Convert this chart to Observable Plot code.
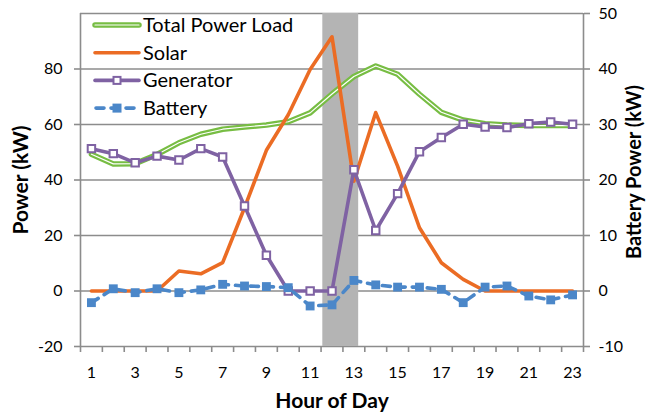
<!DOCTYPE html>
<html><head><meta charset="utf-8">
<script src="https://cdn.jsdelivr.net/npm/d3@7"></script>
<script src="https://cdn.jsdelivr.net/npm/@observablehq/plot@0.6"></script>
<style>
body{margin:0;background:#fff;}
#wrap{position:relative;width:646px;height:414px;overflow:hidden;}
#legend{position:absolute;left:0;top:0;}
</style></head><body><div id="wrap"></div>
<script>
const hours = [1,2,3,4,5,6,7,8,9,10,11,12,13,14,15,16,17,18,19,20,21,22,23];
const totalLoad = [49.3,45.8,45.9,49.2,53.4,56.5,58.3,59.1,59.8,61,64.2,71,77.3,81.1,78.1,70.9,64.4,61.6,60.3,59.8,59.6,59.6,59.6];
const solar = [0,0,0,0,7.2,6.2,10.2,30,50.7,63.5,79.8,91.6,39.6,64.3,45,22.8,10.2,4.2,0,0,0,0,0];
const generator = [51.3,49.5,46.2,48.6,47.2,51.3,48.3,30.6,12.9,0,0,0,43.7,21.8,35.1,50.2,55.3,60.1,59.1,58.9,60.3,60.9,60.1];
const battery = [-2.1,0.4,-0.3,0.4,-0.3,0.2,1.2,0.9,0.8,0.6,-2.7,-2.5,1.9,1.1,0.7,0.7,0.3,-2.1,0.7,0.9,-0.9,-1.6,-0.7];
const leftTicks = [-20,0,20,40,60,80];
const rightTicks = [-10,0,10,20,30,40,50];
const gridValues = [-20,0,20,40,60,80,100];
const xTickLabels = [1,3,5,7,9,11,13,15,17,19,21,23];
const xTickMarks = [0.5,1.5,2.5,3.5,4.5,5.5,6.5,7.5,8.5,9.5,10.5,11.5,12.5,13.5,14.5,15.5,16.5,17.5,18.5,19.5,20.5,21.5,22.5,23.5];
const highlight = [{start: 11.58, end: 13.22}];
const seriesNames = ["Total Power Load","Solar","Generator","Battery"];
const xTitle = "Hour of Day";
const yTitle = "Power (kW)";
const y2Title = "Battery Power (kW)";

const FONT = "Lato, 'Open Sans', sans-serif";
const C = {green:"#77bd43", orange:"#eb6c24", purple:"#7f62a3", blue:"#4b87c9", grid:"#8c8c8c", band:"#b4b4b4"};
const ratio = 2; // left axis units per right axis unit

const rows = hours.map((h,i)=>({hour:h,total:totalLoad[i],solar:solar[i],gen:generator[i],bat:battery[i]*ratio}));

const chart = Plot.plot({
  width:646, height:414, marginLeft:80, marginRight:63, marginTop:13, marginBottom:68,
  x:{domain:[0.5,23.5]},
  y:{domain:[-20,100]},
  style:{fontFamily:FONT, background:"white", color:"black"},
  marks:[
    Plot.ruleY(gridValues, {stroke:C.grid, strokeWidth:1.6}),
    Plot.rect(highlight, {x1:"start", x2:"end", fill:C.band}),
    Plot.ruleX([0.5, 23.5], {stroke:C.grid, strokeWidth:1.6}),
    Plot.axisY({anchor:"left", ticks:leftTicks, tickFormat:d=>String(d), tickSize:6, tickPadding:12, stroke:C.grid, strokeWidth:1.6, fill:"black", fontSize:16, label:null}),
    Plot.axisY({anchor:"right", ticks:rightTicks.map(d=>d*ratio), tickFormat:d=>String(d/ratio), tickSize:6, tickPadding:9, stroke:C.grid, strokeWidth:1.6, fill:"black", fontSize:16, label:null}),
    Plot.axisX({ticks:xTickLabels, tickSize:0, tickPadding:20, fill:"black", fontSize:16, label:null}),
    Plot.axisX({ticks:xTickMarks, tickSize:6, tickFormat:()=>"", stroke:C.grid, strokeWidth:1.6, label:null}),
    Plot.line(rows, {x:"hour", y:"total", stroke:C.green, strokeWidth:5.5}),
    Plot.line(rows, {x:"hour", y:"total", stroke:"white", strokeWidth:1.2}),
    Plot.line(rows, {x:"hour", y:"solar", stroke:C.orange, strokeWidth:3.6}),
    Plot.line(rows, {x:"hour", y:"gen", stroke:C.purple, strokeWidth:3.6}),
    Plot.dot(rows, {x:"hour", y:"gen", symbol:"square", r:4.2, fill:"white", stroke:C.purple, strokeWidth:2}),
    Plot.line(rows, {x:"hour", y:"bat", stroke:C.blue, strokeWidth:3.6, strokeDasharray:"8,7", strokeLinecap:"round"}),
    Plot.dot(rows, {x:"hour", y:"bat", symbol:"square", r:5, fill:C.blue}),
    Plot.text([yTitle], {frameAnchor:"left", dx:-59, rotate:-90, fontSize:21, fontWeight:"bold", textAnchor:"middle", lineAnchor:"middle"}),
    Plot.text([y2Title], {frameAnchor:"right", dx:51, dy:-8, rotate:-90, fontSize:20, fontWeight:"bold", textAnchor:"middle", lineAnchor:"middle"}),
    Plot.text([xTitle], {frameAnchor:"bottom", dy:55, fontSize:21, fontWeight:"bold", textAnchor:"middle", lineAnchor:"middle"})
  ]
});
const wrap = document.getElementById("wrap");
wrap.appendChild(chart);

// legend overlay
const lg = d3.select(wrap).append("svg").attr("id","legend").attr("width",646).attr("height",140)
  .style("font-family", FONT);
const rowY = i => 25 + i*27.7;
seriesNames.forEach((name,i)=>{
  const g = lg.append("g").attr("transform",`translate(0,${rowY(i)})`);
  if(i===0){
    g.append("line").attr("x1",95).attr("x2",139).attr("stroke",C.green).attr("stroke-width",5.5).attr("stroke-linecap","round");
    g.append("line").attr("x1",95).attr("x2",139).attr("stroke","white").attr("stroke-width",1.2).attr("stroke-linecap","round");
  } else if(i===1){
    g.append("line").attr("x1",95).attr("x2",139).attr("stroke",C.orange).attr("stroke-width",3.6).attr("stroke-linecap","round");
  } else if(i===2){
    g.append("line").attr("x1",95).attr("x2",139).attr("stroke",C.purple).attr("stroke-width",3.6).attr("stroke-linecap","round");
    g.append("rect").attr("x",113.5).attr("y",-3.5).attr("width",7).attr("height",7).attr("fill","white").attr("stroke",C.purple).attr("stroke-width",2);
  } else {
    g.append("line").attr("x1",96).attr("x2",139).attr("stroke",C.blue).attr("stroke-width",3.6).attr("stroke-linecap","round").attr("stroke-dasharray","8,7");
    g.append("rect").attr("x",112.5).attr("y",-4.5).attr("width",9).attr("height",9).attr("fill",C.blue);
  }
  g.append("text").attr("x",143).attr("y",0).attr("dy","0.35em").attr("font-size",20).attr("fill","black").text(name);
});
</script></body></html>
